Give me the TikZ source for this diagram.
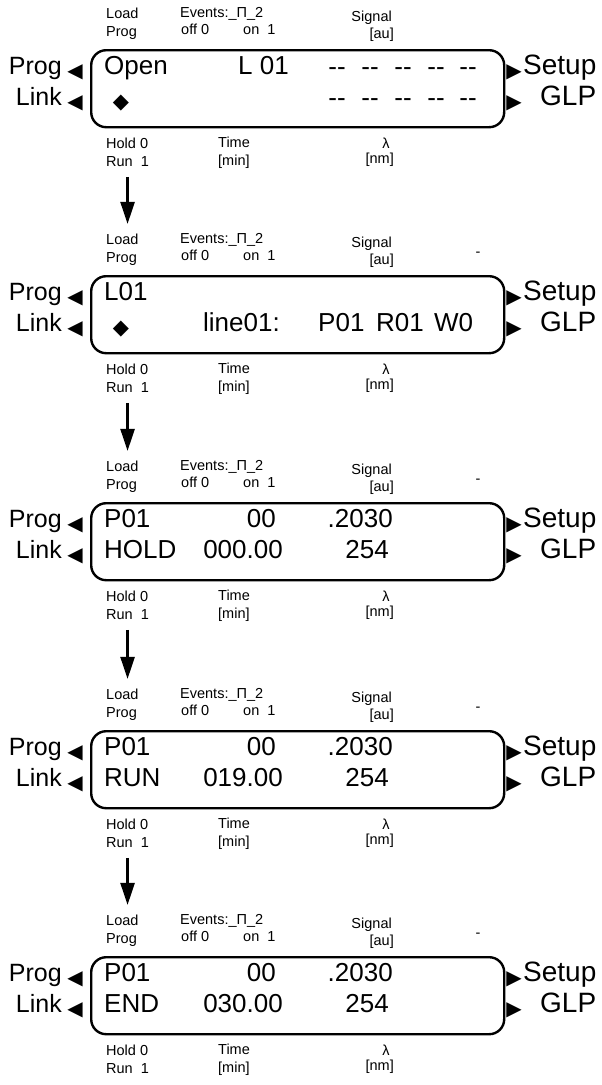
\documentclass[tikz,border=0pt]{standalone}
\usepackage{fontspec}
\setmainfont{Liberation Sans}
\newfontfamily\symfont{DejaVu Sans}
\usetikzlibrary{arrows.meta}

\begin{document}
\begin{tikzpicture}[x=1pt,y=-1pt,inner sep=0pt,
  lbl/.style={font=\fontsize{14.5}{16}\selectfont},
  disp/.style={font=\fontsize{26}{28}\selectfont},
  side/.style={font=\fontsize{25}{27}\selectfont},
  rside/.style={font=\fontsize{28}{30}\selectfont},
  tri/.style={font=\symfont\fontsize{20}{20}\selectfont},
  dia/.style={font=\symfont\fontsize{21}{21}\selectfont},
  screen/.style={draw,line width=2.4pt,rounded corners=15pt,minimum width=413pt,minimum height=77pt,anchor=north west},
  flow/.style={line width=2.4pt,-{Triangle[length=22pt,width=14pt]}}]
  \useasboundingbox (0,0) rectangle (602,1085);
  % frame, keys and captions of every screen
  \foreach \i/\yb in {1/49,2/275,3/502,4/730,5/956}{
    \node[screen] (scr\i) at (90,\yb) {};
    \node[lbl,anchor=mid west] (load\i) at (106,\yb-33) {Load};
    \node[lbl,anchor=mid west] (prg\i) at (106,\yb-15) {Prog};
    \node[lbl,anchor=mid west] (ev\i) at (180,\yb-34) {Events:\_Π\_2};
    \node[lbl,anchor=mid west] (off\i) at (181,\yb-17) {off 0};
    \node[lbl,anchor=mid west] (on\i) at (243,\yb-17) {on\ \ 1};
    \node[lbl,anchor=mid east] (sig\i) at (392,\yb-30) {Signal};
    \node[lbl,anchor=mid east] (au\i) at (394,\yb-13) {[au]};
    \ifnum\i>1 \node[lbl] (tick\i) at (478,\yb-21) {-}; \fi
    \node[side,anchor=mid east] (pk\i) at (62,\yb+23) {Prog};
    \node[tri] (pt\i) at (75,\yb+23) {◀};
    \node[side,anchor=mid east] (lk\i) at (62,\yb+54) {Link};
    \node[tri] (lt\i) at (75,\yb+54) {◀};
    \node[tri] (st\i) at (514,\yb+23) {▶};
    \node[rside,anchor=mid west] (su\i) at (523,\yb+23) {Setup};
    \node[tri] (gt\i) at (514,\yb+54) {▶};
    \node[rside,anchor=mid west] (glp\i) at (540,\yb+54) {GLP};
    \node[lbl,anchor=mid west] (hold\i) at (106,\yb+97) {Hold 0};
    \node[lbl,anchor=mid west] (run\i) at (106,\yb+115) {Run\ \ 1};
    \node[lbl,anchor=mid west] (time\i) at (218,\yb+96) {Time};
    \node[lbl,anchor=mid west] (min\i) at (218,\yb+114) {[min]};
    \node[lbl] (lam\i) at (386,\yb+94) {λ};
    \node[lbl,anchor=mid east] (nm\i) at (394,\yb+112) {[nm]};
  }
  % first screen
  \node[disp,anchor=mid west] (open) at (104,72) {Open};
  \node[disp,anchor=mid west] (lno) at (238,72) {L 01};
  \foreach \x in {337,370,403,436,468}{
    \node[disp] (da\x) at (\x,72) {-{}-};
    \node[disp] (db\x) at (\x,103) {-{}-};
  }
  \node[dia] (dia1) at (121,103) {◆};
  % second screen
  \node[disp,anchor=mid west] (lone) at (104,298) {L01};
  \node[dia] (dia2) at (121,329) {◆};
  \node[disp,anchor=mid west] (lname) at (203,329) {line01:};
  \node[disp,anchor=mid west] (pone) at (318,329) {P01};
  \node[disp,anchor=mid west] (rone) at (376,329) {R01};
  \node[disp,anchor=mid west] (wzero) at (434,329) {W0};
  % run screens
  \foreach \i/\yb/\st/\tm in {3/502/HOLD/000.00,4/730/RUN/019.00,5/956/END/030.00}{
    \node[disp,anchor=mid west] (pp\i) at (104,\yb+23) {P01};
    \node[disp,anchor=mid east] (ev0\i) at (276,\yb+23) {00};
    \node[disp,anchor=mid east] (sv\i) at (393,\yb+23) {.2030};
    \node[disp,anchor=mid west] (state\i) at (104,\yb+54) {\st};
    \node[disp,anchor=mid east] (tv\i) at (283,\yb+54) {\tm};
    \node[disp,anchor=mid east] (wl\i) at (389,\yb+54) {254};
  }
  \foreach \i/\j in {1/2,2/3,3/4,4/5}
    \draw[flow] ([yshift=-10pt]run\i.south) -- ([yshift=10pt]run\i.south |- load\j.north);
\end{tikzpicture}
\end{document}
